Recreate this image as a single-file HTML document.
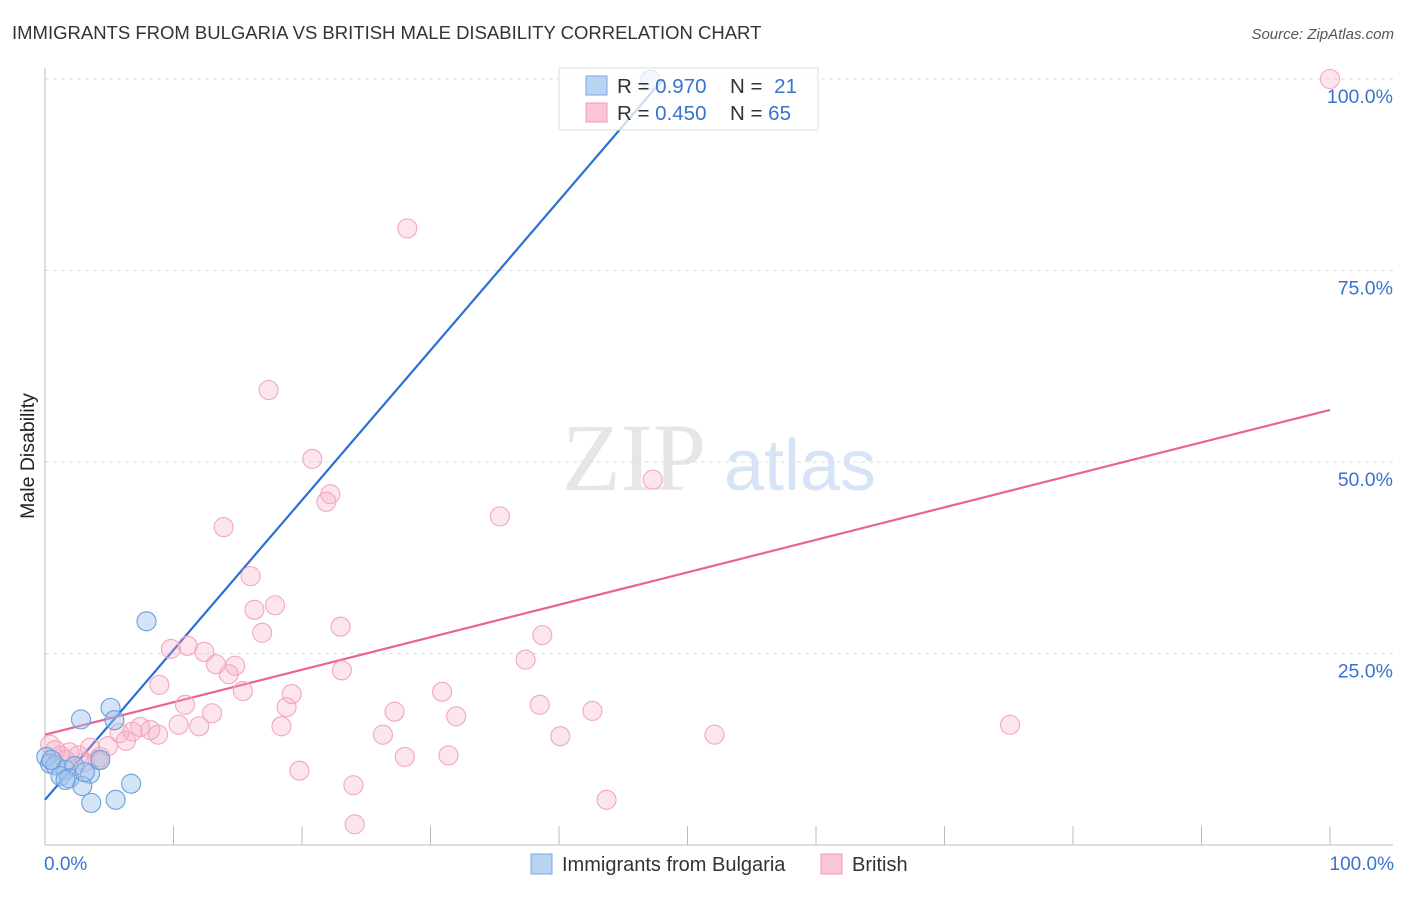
<!DOCTYPE html>
<html><head><meta charset="utf-8"><style>
body{margin:0;width:1406px;height:892px;background:#fff;overflow:hidden;font-family:"Liberation Sans",sans-serif}
</style></head><body>
<svg width="1406" height="892" xmlns="http://www.w3.org/2000/svg" font-family="Liberation Sans, sans-serif">
<text x="12" y="39" font-size="18.5" fill="#333">IMMIGRANTS FROM BULGARIA VS BRITISH MALE DISABILITY CORRELATION CHART</text>
<text x="1394" y="39" font-size="15" fill="#555" font-style="italic" text-anchor="end">Source: ZipAtlas.com</text>
<text x="34" y="456" font-size="19.5" fill="#222" text-anchor="middle" transform="rotate(-90 34 456)">Male Disability</text>
<g><text x="634" y="490" font-size="96" fill="#e6e6e6" font-family="Liberation Serif, serif" text-anchor="middle">ZIP</text><text x="800" y="490" font-size="72" fill="#d6e4f5" text-anchor="middle">atlas</text></g>
<g id="grid"></g>
<g id="axes"></g>
<g id="lines"></g>
<g id="pts"></g>
<g>
<rect x="559" y="68" width="259" height="62" fill="#fff" fill-opacity="0.75" stroke="#ddd"/>
<rect x="586" y="76" width="21" height="19" fill="#b9d3f3" stroke="#7aa8e0"/>
<rect x="586" y="103" width="21" height="19" fill="#fbc6d6" stroke="#f09bb6"/>
<text x="617" y="93" font-size="20.5" fill="#333">R = <tspan fill="#3a72d0">0.970</tspan></text>
<text x="730" y="93" font-size="20.5" fill="#333">N = <tspan fill="#3a72d0" dx="6">21</tspan></text>
<text x="617" y="120" font-size="20.5" fill="#333">R = <tspan fill="#3a72d0">0.450</tspan></text>
<text x="730" y="120" font-size="20.5" fill="#333">N = <tspan fill="#3a72d0">65</tspan></text>
</g>
<g>
<rect x="531" y="854" width="21" height="20" fill="#b9d3f3" stroke="#7aa8e0"/>
<text x="562" y="871" font-size="20" fill="#333">Immigrants from Bulgaria</text>
<rect x="821" y="854" width="21" height="20" fill="#fbc6d6" stroke="#f09bb6"/>
<text x="852" y="871" font-size="20" fill="#333">British</text>
</g>
</svg>
<script>
const yTicks=[25,50,75,100];
const yTickLabels=["25.0%","50.0%","75.0%","100.0%"];
const blueX=[7.9,5.1,2.8,5.4,0.1,0.4,0.8,1.6,2.3,3.5,1.2,1.9,2.9,6.7,3.6,5.5,0.5,3.1,1.6,4.3,47.1];
const blueY=[29.2,17.9,16.4,16.3,11.5,10.6,10.4,9.8,10.3,9.3,9.0,8.7,7.7,8.0,5.5,5.9,11.1,9.5,8.5,11.1,99.9];
const pinkX=[100,28.2,17.4,20.8,22.2,21.9,47.3,35.4,13.9,16.0,17.9,16.3,23.0,16.9,38.7,9.8,11.1,12.4,14.8,13.3,37.4,23.1,14.3,8.9,15.4,19.2,30.9,10.9,18.8,38.5,13.0,27.2,42.6,32.0,75.1,10.4,12.0,18.4,7.4,8.2,6.8,5.8,8.8,26.3,40.1,52.1,6.3,4.9,3.5,0.4,1.9,1.2,2.6,4.3,4.1,31.4,28.0,19.8,24.0,43.7,24.1,1.6,3.1,0.8];
const pinkY=[100,80.5,59.4,50.4,45.8,44.8,47.7,42.9,41.5,35.1,31.3,30.7,28.5,27.7,27.4,25.6,26.0,25.2,23.4,23.6,24.2,22.8,22.3,20.9,20.1,19.7,20.0,18.3,18.0,18.3,17.2,17.4,17.5,16.8,15.7,15.7,15.5,15.5,15.4,15.0,14.8,14.6,14.4,14.4,14.2,14.4,13.6,12.9,12.7,13.1,12.1,11.7,11.7,11.5,11.1,11.7,11.5,9.7,7.8,5.9,2.7,11.1,10.8,12.4];
const blueFit=[5.9,1.956];
const pinkFit=[14.4,0.424];
const X=v=>45+v*12.85, Y=v=>845-v*7.66;
const NS="http://www.w3.org/2000/svg";
function mk(t,a,p){const e=document.createElementNS(NS,t);for(const k in a)e.setAttribute(k,a[k]);p.appendChild(e);return e;}
const grid=document.getElementById('grid'),axes=document.getElementById('axes');
yTicks.forEach((t,i)=>{
 const g=mk('line',{x1:45,x2:1393,y1:Y(t),y2:Y(t),stroke:'#ddd','stroke-dasharray':'4,4'},grid);
 
 
 const l=mk('text',{x:1393,y:Y(t)+24,'font-size':19.5,fill:'#3a72d0','text-anchor':'end'},axes);
 l.textContent=yTickLabels[i];
 
 
});
const ya=mk('line',{x1:45,x2:45,y1:68,y2:845,stroke:'#bbb'},axes);


const xa=mk('line',{x1:45,x2:1393,y1:845,y2:845,stroke:'#bbb'},axes);


for(let i=1;i<=10;i++){const tk=mk('line',{x1:X(i*10),x2:X(i*10),y1:826,y2:845,stroke:'#bbb'},axes);
 
 }
[[0,'0.0%','start',44],[100,'100.0%','end',1394]].forEach(d=>{const t=mk('text',{x:d[3],y:870,'font-size':19,fill:'#3a72d0','text-anchor':d[2]},axes);t.textContent=d[1];
 
 });
const pts=document.getElementById('pts');
function dots(xs,ys,fill,stroke,name){xs.forEach((x,i)=>{const c=mk('circle',{cx:X(x),cy:Y(ys[i]),r:9.5,fill:fill,stroke:stroke,'stroke-width':1.1},pts);
 
 });}
dots(pinkX,pinkY,'rgba(246,170,196,0.3)','#f4a6bf','british-point');
dots(blueX,blueY,'rgba(160,196,236,0.45)','#6a9fdc','bulgaria-point');
const lines=document.getElementById('lines');
const bxEnd=(100-blueFit[0])/blueFit[1];
const bl=mk('line',{x1:X(0),y1:Y(blueFit[0]),x2:X(bxEnd),y2:Y(100),stroke:'#2a6fd6','stroke-width':2.2},lines);


const pl=mk('line',{x1:X(0),y1:Y(pinkFit[0]),x2:X(100),y2:Y(pinkFit[0]+pinkFit[1]*100),stroke:'#e8638f','stroke-width':2.2},lines);


</script>
</body></html>
